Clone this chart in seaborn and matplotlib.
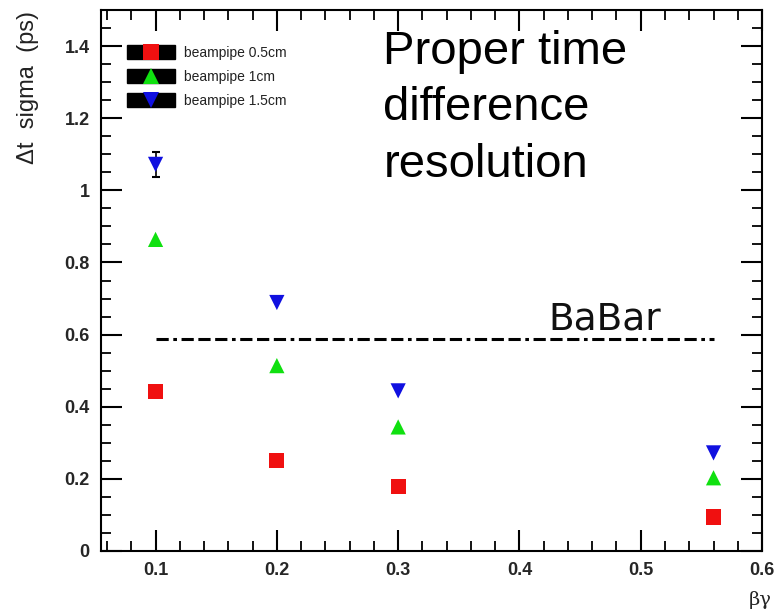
import matplotlib
matplotlib.use("Agg")
import matplotlib.pyplot as plt
from matplotlib.lines import Line2D
from matplotlib.patches import Rectangle
from matplotlib.legend_handler import HandlerBase
from matplotlib.ticker import MultipleLocator, FixedLocator
import seaborn as sns
import pandas as pd

# beta*gamma values and resolution for each beampipe radius
beta_gamma = [0.1, 0.2, 0.3, 0.56]
sigma_05cm = [0.442, 0.250, 0.178, 0.094]
sigma_1cm = [0.864, 0.514, 0.344, 0.203]
sigma_15cm = [1.072, 0.689, 0.444, 0.272]
sigma_15cm_err = [0.035, 0.0, 0.0, 0.0]
series_names = ["beampipe 0.5cm", "beampipe 1cm", "beampipe 1.5cm"]
babar_level = 0.589
babar_range = [0.1, 0.56]
y_ticks = [0, 0.2, 0.4, 0.6, 0.8, 1.0, 1.2, 1.4]
y_tick_labels = ["0", "0.2", "0.4", "0.6", "0.8", "1", "1.2", "1.4"]
x_ticks = [0.1, 0.2, 0.3, 0.4, 0.5, 0.6]
x_tick_labels = ["0.1", "0.2", "0.3", "0.4", "0.5", "0.6"]

sns.set_style("ticks")
plt.rcParams["font.family"] = ["Liberation Sans", "DejaVu Sans"]

df = pd.DataFrame({
    "bg": beta_gamma * 3,
    "sigma": sigma_05cm + sigma_1cm + sigma_15cm,
    "series": sum([[n] * len(beta_gamma) for n in series_names], []),
})

colors = {series_names[0]: "#f01010", series_names[1]: "#10e010", series_names[2]: "#1010e0"}
markers = {series_names[0]: "s", series_names[1]: "^", series_names[2]: "v"}


class BoxedMarkerHandler(HandlerBase):
    """Legend key: a black box with the series marker centred inside."""

    def create_artists(self, legend, orig_handle, xdescent, ydescent,
                       width, height, fontsize, trans):
        box = Rectangle((-xdescent, -ydescent), width, height,
                        facecolor="black", edgecolor="black", transform=trans)
        cx = -xdescent + width / 2
        cy = -ydescent + height / 2
        mk = Line2D([cx], [cy], ls="none", marker=orig_handle.get_marker(),
                    color=orig_handle.get_color(), markersize=orig_handle.get_markersize(),
                    markeredgewidth=0, transform=trans)
        return [box, mk]


fig = plt.figure(figsize=(7.84, 6.11), dpi=100)
ax = fig.add_axes([0.1288, 0.0982, 0.972 - 0.1288, 0.9836 - 0.0982])

# error bar on the 1.5cm series (only where an uncertainty is given)
err_pts = [(x, y, e) for x, y, e in zip(beta_gamma, sigma_15cm, sigma_15cm_err) if e > 0]
ax.errorbar([p[0] for p in err_pts], [p[1] for p in err_pts], yerr=[p[2] for p in err_pts],
            fmt="none", ecolor="black", elinewidth=1.2, capsize=3, capthick=1.5, zorder=2)

sns.scatterplot(data=df, x="bg", y="sigma", hue="series", style="series",
                palette=colors, markers=markers, s=120, linewidth=0,
                legend=False, ax=ax, zorder=3)

# BaBar reference level
ax.plot(babar_range, [babar_level, babar_level], color="black", lw=2.2,
        dashes=[4, 1.5, 1.2, 1.5, 4, 1.5, 4, 1.5], zorder=1)
ax.text(0.4237, 0.614, "BaBar", fontsize=27, family="DejaVu Sans",
        ha="left", va="baseline", color="#111111")

ax.set_xlim(0.055, 0.6)
ax.set_ylim(0, 1.5)
ax.xaxis.set_major_locator(FixedLocator(x_ticks))
ax.set_xticklabels(x_tick_labels)
ax.xaxis.set_minor_locator(MultipleLocator(0.02))
ax.yaxis.set_major_locator(FixedLocator(y_ticks))
ax.set_yticklabels(y_tick_labels)
ax.yaxis.set_minor_locator(MultipleLocator(0.05))

ax.tick_params(which="both", direction="in", top=True, right=True, color="black")
ax.tick_params(which="major", length=15, width=1.5, labelsize=13, pad=8)
ax.tick_params(which="minor", length=7, width=1.3)
for lab in ax.get_xticklabels() + ax.get_yticklabels():
    lab.set_fontweight("bold")
    lab.set_fontstretch("condensed")
for sp in ax.spines.values():
    sp.set_linewidth(1.5)
    sp.set_color("black")

ax.set_xlabel("")
ax.set_ylabel("Δt  sigma  (ps)", fontsize=17, color="#222222")
ax.yaxis.set_label_coords(-0.094, 0.856)
ax.yaxis.label.set_va("bottom")
fig.text(0.969, 0.018, "βγ", fontsize=14, ha="center", va="center", family="DejaVu Serif")

ax.text(0.427, 0.963, "Proper time\ndifference\nresolution", transform=ax.transAxes,
        fontsize=34, ha="left", va="top", linespacing=1.36, color="black")

# legend: black boxes holding each series marker
handles = [Line2D([], [], ls="none", marker=markers[n], color=colors[n], markersize=12)
           for n in series_names]
leg = ax.legend(handles, series_names, loc="upper left", bbox_to_anchor=(0.039, 0.935),
                handler_map={Line2D: BoxedMarkerHandler()},
                frameon=False, fontsize=10, handlelength=3.5, handleheight=1.15,
                labelspacing=0.68, handletextpad=0.65, borderaxespad=0, borderpad=0)
for t in leg.get_texts():
    t.set_color("#222222")

fig.savefig("out.png", dpi=100, facecolor="white")
